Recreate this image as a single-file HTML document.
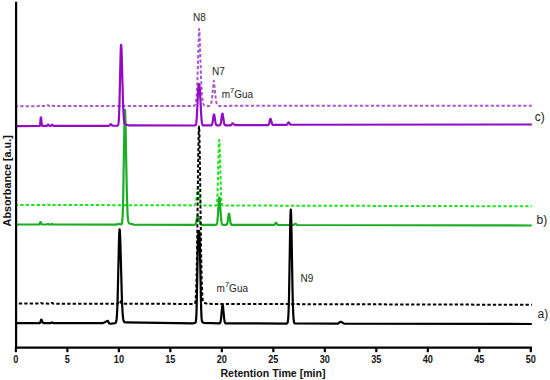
<!DOCTYPE html>
<html><head><meta charset="utf-8"><style>
html,body{margin:0;padding:0;background:#fff;}
body{width:550px;height:380px;overflow:hidden;}
svg{display:block;}
text{font-family:"Liberation Sans",sans-serif;}
</style></head><body>
<svg width="550" height="380" viewBox="0 0 550 380">
<rect width="550" height="380" fill="#fff"/>
<g fill="none" stroke-linejoin="round" stroke-linecap="butt">
<polyline points="16.80,205.00 45.60,205.03 46.40,204.76 47.20,204.33 47.60,204.28 49.00,204.94 49.60,205.01 50.20,204.87 51.20,204.34 51.60,204.29 53.00,204.95 194.20,205.39 194.60,205.25 195.00,204.91 195.20,204.59 195.40,204.13 195.80,202.62 196.20,200.15 197.40,189.67 197.60,188.60 197.80,188.03 198.00,188.02 198.20,188.50 198.40,189.41 199.80,200.47 200.20,202.67 200.60,204.07 201.00,204.84 201.40,205.22 202.00,205.42 215.80,205.49 216.20,205.38 216.40,205.21 216.60,204.83 216.80,204.10 217.00,202.76 217.20,200.50 217.40,196.99 217.80,185.25 218.60,150.90 218.80,144.72 219.00,141.06 219.20,140.01 219.40,140.86 219.60,143.82 220.00,155.76 220.80,186.99 221.20,197.20 221.40,200.38 221.60,202.51 221.80,203.86 222.00,204.65 222.20,205.09 222.40,205.32 222.80,205.48 531.80,206.30" stroke="#1ee41e" stroke-width="2.0" stroke-dasharray="3.30 2.15" stroke-dashoffset="1.99"/>
<polyline points="16.80,224.50 39.00,224.51 39.20,224.45 39.40,224.31 39.60,224.03 40.20,222.37 40.40,222.00 40.60,221.98 40.80,222.25 41.40,223.70 41.60,224.06 41.80,224.30 42.20,224.50 46.60,224.52 47.20,224.31 47.80,223.99 48.00,223.96 48.40,224.08 49.20,224.48 50.60,224.53 51.20,224.32 51.80,224.00 52.00,223.97 52.40,224.09 53.20,224.49 116.00,224.58 118.80,223.91 121.00,224.32 121.20,224.31 121.40,224.23 121.60,224.03 121.80,223.62 122.00,222.88 122.20,221.62 122.40,219.59 122.60,216.49 122.80,211.99 123.20,197.58 124.40,123.17 124.60,114.68 124.80,110.15 125.00,109.91 125.20,112.95 125.40,118.86 126.80,190.41 127.20,204.90 127.60,214.10 127.80,217.07 128.00,219.21 128.20,220.71 128.40,221.74 128.60,222.42 128.80,222.88 129.00,223.18 129.40,223.53 133.80,224.61 194.40,224.79 194.80,224.68 195.20,224.40 195.60,223.84 196.00,222.82 197.40,216.73 197.60,216.18 197.80,215.89 198.00,215.88 198.20,216.13 198.40,216.60 199.80,222.29 200.20,223.42 200.60,224.14 201.00,224.54 201.60,224.78 215.80,224.86 216.20,224.75 216.40,224.63 216.60,224.40 216.80,224.03 217.00,223.42 217.20,222.50 217.40,221.17 217.80,216.98 218.80,200.95 219.00,198.73 219.20,197.54 219.40,197.52 219.60,198.49 219.80,200.34 221.00,217.48 221.40,221.18 221.60,222.40 221.80,223.28 222.00,223.89 222.20,224.29 222.40,224.55 222.80,224.79 226.00,224.88 226.40,224.80 226.60,224.70 226.80,224.51 227.00,224.21 227.20,223.72 227.40,223.00 227.80,220.78 228.60,214.89 228.80,214.02 229.00,213.71 229.20,214.02 229.40,214.89 230.40,222.03 230.60,223.01 230.80,223.73 231.00,224.21 231.20,224.52 231.40,224.71 231.80,224.87 273.80,224.95 274.20,224.82 274.60,224.52 275.60,223.06 275.80,222.87 276.00,222.80 276.20,222.87 276.60,223.34 277.20,224.29 277.60,224.71 278.00,224.91 293.00,224.99 293.60,224.84 295.00,223.91 295.40,223.85 295.80,224.01 296.80,224.74 297.60,225.00 531.80,225.50" stroke="#1cad24" stroke-width="2.2"/>
<polyline points="16.80,106.20 38.20,106.12 39.00,105.81 39.80,105.40 40.20,105.40 41.60,106.07 46.00,106.13 46.60,105.95 47.60,105.29 48.00,105.17 48.40,105.29 49.40,105.92 49.80,105.98 50.20,105.88 51.20,105.23 51.60,105.17 52.00,105.34 53.00,105.99 118.80,106.04 119.60,105.82 120.80,105.18 121.20,105.10 121.60,105.18 123.00,105.90 193.60,105.92 194.20,105.74 194.60,105.45 195.00,104.93 195.40,103.97 195.80,102.33 196.20,99.62 196.60,95.38 197.00,89.09 197.60,75.03 198.80,36.27 199.00,31.48 199.20,29.00 199.40,31.16 199.80,40.71 201.00,76.41 201.60,89.08 202.00,94.93 202.40,99.02 202.80,101.75 203.20,103.50 203.60,104.58 204.00,105.21 204.40,105.57 205.20,105.88 209.20,105.89 209.80,105.72 210.20,105.45 210.60,104.96 211.00,104.08 211.40,102.64 211.80,100.41 212.40,95.22 213.40,83.42 213.60,81.61 213.80,80.66 214.00,81.47 215.60,97.53 216.00,100.40 216.40,102.46 216.80,103.85 217.20,104.74 217.60,105.28 218.00,105.59 219.00,105.88 531.80,105.70" stroke="#aa58cf" stroke-width="2.0" stroke-dasharray="3.30 2.15" stroke-dashoffset="2.03"/>
<polyline points="16.80,126.10 39.40,126.01 39.60,125.96 39.80,125.74 40.00,125.14 40.20,123.83 40.60,119.21 40.80,117.47 41.00,117.40 41.20,118.67 41.60,122.72 41.80,124.28 42.00,125.24 42.20,125.72 42.40,125.92 46.60,125.96 47.00,125.80 47.40,125.39 48.00,124.58 48.20,124.50 48.40,124.58 49.20,125.63 49.60,125.90 50.20,125.98 50.60,125.91 51.00,125.67 51.80,124.76 52.00,124.69 52.20,124.76 53.00,125.66 53.40,125.90 108.60,125.78 109.20,125.60 109.60,125.29 110.40,124.40 110.60,124.26 110.80,124.21 111.00,124.26 111.40,124.60 112.20,125.46 112.60,125.68 117.20,125.75 117.60,125.61 117.80,125.44 118.00,125.12 118.20,124.58 118.40,123.67 118.60,122.22 118.80,120.03 119.00,116.85 119.40,106.69 120.60,54.29 120.80,48.33 121.00,45.16 121.20,45.02 121.40,47.21 121.60,51.42 123.00,101.67 123.40,111.53 123.80,117.75 124.00,119.80 124.20,121.29 124.40,122.34 124.60,123.06 124.80,123.55 125.00,123.87 125.40,124.26 128.60,125.46 195.00,125.49 195.40,125.32 195.60,125.11 195.80,124.75 196.00,124.15 196.20,123.20 196.40,121.81 196.80,117.27 198.20,89.53 198.40,86.88 198.60,85.13 198.80,84.24 199.00,84.02 199.20,84.20 199.40,84.95 199.60,86.44 200.00,91.71 201.20,114.86 201.60,120.07 201.80,121.84 202.00,123.14 202.20,124.04 202.40,124.64 202.60,125.02 202.80,125.24 203.20,125.44 211.00,125.43 211.40,125.30 211.60,125.16 211.80,124.92 212.00,124.54 212.20,123.98 212.60,122.19 213.60,115.50 213.80,114.73 214.00,114.46 214.20,114.73 214.40,115.50 215.40,122.18 215.80,123.97 216.00,124.52 216.20,124.90 216.40,125.14 216.80,125.36 219.40,125.39 219.80,125.25 220.00,125.10 220.20,124.84 220.40,124.43 220.60,123.84 221.00,121.91 222.00,114.74 222.20,113.91 222.40,113.62 222.60,113.88 222.80,114.62 224.00,122.56 224.40,124.13 224.60,124.60 224.80,124.93 225.00,125.13 225.40,125.33 230.40,125.34 230.80,125.22 231.20,124.95 232.20,123.61 232.40,123.43 232.60,123.37 233.00,123.48 234.60,124.86 235.40,125.22 267.80,125.08 268.20,124.96 268.40,124.83 268.60,124.60 268.80,124.25 269.20,123.05 270.00,119.53 270.20,118.98 270.40,118.78 270.60,118.94 270.80,119.37 271.80,123.19 272.20,124.21 272.40,124.53 272.80,124.88 286.20,124.90 286.60,124.81 287.00,124.58 287.40,124.10 288.20,122.70 288.40,122.48 288.60,122.40 288.80,122.46 289.00,122.63 290.00,124.14 290.40,124.54 290.80,124.75 531.80,124.50" stroke="#930bc2" stroke-width="2.2"/>
<polyline points="16.80,303.60 39.60,303.61 40.20,303.41 40.80,303.09 41.00,303.06 41.40,303.18 42.20,303.58 50.40,303.66 50.80,303.57 51.80,302.92 52.00,302.88 52.20,302.93 53.00,303.48 53.60,303.66 117.20,303.78 117.60,303.67 118.00,303.40 118.40,302.88 119.40,300.94 119.60,300.72 119.80,300.64 120.00,300.72 120.20,300.94 121.20,302.89 121.60,303.41 122.00,303.68 194.00,303.95 194.40,303.81 194.60,303.65 194.80,303.39 195.00,302.95 195.20,302.27 195.40,301.21 195.60,299.62 195.80,297.31 196.00,294.05 196.40,283.60 196.80,266.28 197.40,225.74 198.20,159.31 198.60,135.29 198.80,128.68 199.00,126.42 199.20,128.36 199.40,134.05 199.80,155.02 201.00,244.70 201.40,267.33 201.80,283.08 202.20,292.82 202.40,295.93 202.60,298.16 202.80,299.71 203.00,300.77 203.20,301.48 203.40,301.96 203.60,302.30 204.00,302.69 207.40,303.86 531.80,304.80" stroke="#000" stroke-width="2.0" stroke-dasharray="3.30 2.15" stroke-dashoffset="3.44"/>
<polyline points="16.80,323.10 39.60,323.11 39.80,323.05 40.00,322.92 40.20,322.65 40.40,322.20 41.00,320.04 41.20,319.60 41.40,319.57 41.60,319.82 42.60,322.34 42.80,322.66 43.00,322.87 43.40,323.08 50.60,323.11 51.00,322.99 51.80,322.50 52.00,322.46 52.20,322.50 53.20,323.07 102.60,323.10 104.20,322.62 106.80,321.10 107.60,320.91 107.80,320.91 108.00,321.06 108.80,322.83 109.00,323.14 109.40,323.48 110.80,323.76 115.20,323.17 115.60,322.91 115.80,322.65 116.00,322.23 116.20,321.58 116.40,320.59 116.60,319.14 116.80,317.10 117.20,310.55 117.60,299.84 119.00,240.32 119.20,234.36 119.40,230.57 119.60,229.28 119.80,230.23 120.00,233.03 120.40,243.41 121.80,295.45 122.20,305.80 122.60,312.90 123.00,317.36 123.20,318.84 123.40,319.93 123.60,320.71 123.80,321.26 124.00,321.64 124.40,322.08 125.20,322.40 193.40,323.29 194.80,322.93 195.20,322.72 195.40,322.56 195.60,322.28 195.80,321.72 196.00,320.59 196.20,318.44 196.40,314.71 196.60,308.90 197.00,290.51 197.60,255.64 198.00,239.18 198.20,234.56 198.40,232.06 198.60,231.10 198.80,230.93 199.00,231.02 199.20,231.77 199.40,233.77 199.60,237.54 199.80,243.38 201.00,302.71 201.20,309.78 201.40,314.84 201.60,318.14 201.80,320.10 202.00,321.18 202.20,321.75 202.40,322.06 203.60,322.80 219.20,323.42 219.60,323.33 219.80,323.21 220.00,323.01 220.20,322.68 220.40,322.17 220.60,321.41 221.00,318.90 222.20,306.25 222.40,305.07 222.60,304.66 222.80,305.07 223.00,306.26 224.20,318.91 224.60,321.41 224.80,322.18 225.00,322.69 225.20,323.02 225.40,323.22 225.80,323.40 286.60,323.53 287.00,323.41 287.20,323.25 287.40,322.97 287.60,322.48 287.80,321.65 288.00,320.32 288.20,318.26 288.40,315.21 288.60,310.88 289.00,297.35 290.20,226.75 290.40,217.56 290.60,211.63 290.80,209.58 291.00,211.45 291.20,216.87 291.60,236.07 292.40,284.00 292.80,301.75 293.20,313.03 293.40,316.61 293.60,319.12 293.80,320.82 294.00,321.93 294.20,322.62 294.40,323.05 294.60,323.29 295.00,323.51 337.60,323.59 338.40,323.36 340.20,321.92 340.60,321.77 341.00,321.80 341.80,322.22 343.20,323.20 344.40,323.58 531.80,324.00" stroke="#000" stroke-width="2.2"/>
</g>
<g stroke="#000" stroke-width="2.2" fill="none">
<line x1="16.1" y1="1.8" x2="16.1" y2="348.8"/>
<line x1="15" y1="347.7" x2="531.9" y2="347.7"/>
<line x1="15.90" y1="347" x2="15.90" y2="352.2"/><line x1="67.39" y1="347" x2="67.39" y2="352.2"/><line x1="118.88" y1="347" x2="118.88" y2="352.2"/><line x1="170.37" y1="347" x2="170.37" y2="352.2"/><line x1="221.86" y1="347" x2="221.86" y2="352.2"/><line x1="273.35" y1="347" x2="273.35" y2="352.2"/><line x1="324.84" y1="347" x2="324.84" y2="352.2"/><line x1="376.33" y1="347" x2="376.33" y2="352.2"/><line x1="427.82" y1="347" x2="427.82" y2="352.2"/><line x1="479.31" y1="347" x2="479.31" y2="352.2"/><line x1="530.80" y1="347" x2="530.80" y2="352.2"/>
</g>
<g font-size="10.4" font-weight="bold" text-anchor="middle" fill="#111"><text transform="translate(15.90,362.5) scale(0.88,1)">0</text><text transform="translate(67.39,362.5) scale(0.88,1)">5</text><text transform="translate(118.88,362.5) scale(0.88,1)">10</text><text transform="translate(170.37,362.5) scale(0.88,1)">15</text><text transform="translate(221.86,362.5) scale(0.88,1)">20</text><text transform="translate(273.35,362.5) scale(0.88,1)">25</text><text transform="translate(324.84,362.5) scale(0.88,1)">30</text><text transform="translate(376.33,362.5) scale(0.88,1)">35</text><text transform="translate(427.82,362.5) scale(0.88,1)">40</text><text transform="translate(479.31,362.5) scale(0.88,1)">45</text><text transform="translate(530.80,362.5) scale(0.88,1)">50</text></g>
<text x="273" y="376.9" font-size="10.6" font-weight="bold" text-anchor="middle" fill="#111">Retention Time [min]</text>
<text transform="translate(11.0,180.8) rotate(-90)" font-size="10.8" font-weight="bold" text-anchor="middle" fill="#111">Absorbance [a.u.]</text>
<g font-size="10" fill="#1e1e1e">
<text x="193" y="21">N8</text>
<text x="212" y="75.2">N7</text>
<text x="221.7" y="98.1">m<tspan font-size="7.5" dy="-5.2">7</tspan><tspan dy="5.2">Gua</tspan></text>
<text x="216.6" y="292.2">m<tspan font-size="7.5" dy="-5.2">7</tspan><tspan dy="5.2">Gua</tspan></text>
<text x="300.5" y="281.8">N9</text>
</g>
<g font-size="12" fill="#1e1e1e">
<text x="534.7" y="120.8">c)</text>
<text x="536.6" y="223.6">b)</text>
<text x="537.6" y="318.2">a)</text>
</g>
</svg>
</body></html>
